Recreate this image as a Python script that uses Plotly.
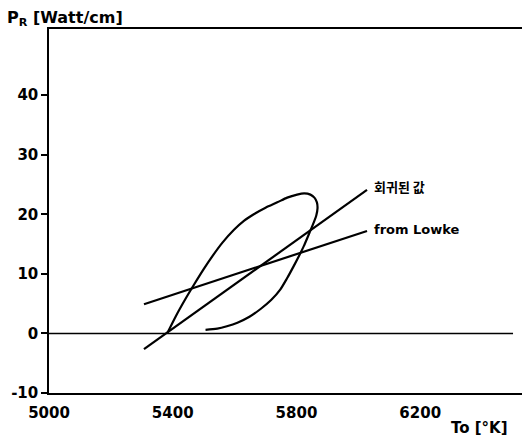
import plotly.graph_objects as go

# Data
loop_x = [5383, 5410, 5440, 5470, 5500, 5530, 5560, 5598, 5630, 5662, 5700, 5738,
          5770, 5802, 5825, 5845, 5858, 5866, 5868, 5864, 5851, 5838, 5824, 5808,
          5791, 5770, 5748, 5718, 5684, 5648, 5609, 5575, 5544, 5506]
loop_y = [0.1, 2.9, 5.7, 8.3, 10.8, 13.1, 15.2, 17.4, 18.9, 20.0, 21.1, 22.0,
          22.8, 23.3, 23.5, 23.3, 22.8, 22.0, 21.0, 19.8, 18.0, 16.4, 14.7, 13.0,
          11.3, 9.3, 7.4, 5.6, 4.1, 2.8, 1.8, 1.2, 0.8, 0.6]

regress_x = [5307, 6028]
regress_y = [-2.65, 24.1]

lowke_x = [5307, 6028]
lowke_y = [4.9, 17.2]

zero_x = [5000, 6500]
zero_y = [0, 0]

x_ticks = [5000, 5400, 5800, 6200]
y_ticks = [-10, 0, 10, 20, 30, 40]

label_regress = "회귀된 값"
label_lowke = "from Lowke"

FONT = "DejaVu Sans"
line_style = dict(color="black", width=2.2)

fig = go.Figure()
fig.add_trace(go.Scatter(x=zero_x, y=zero_y, mode="lines",
                         line=dict(color="black", width=1.5), hoverinfo="skip"))
fig.add_trace(go.Scatter(x=loop_x, y=loop_y, mode="lines",
                         line=dict(shape="spline", smoothing=0.8, **line_style)))
fig.add_trace(go.Scatter(x=regress_x, y=regress_y, mode="lines", line=line_style))
fig.add_trace(go.Scatter(x=lowke_x, y=lowke_y, mode="lines", line=line_style))

tick_font = dict(family=FONT, size=15, color="black", weight="bold")

fig.update_layout(
    width=523, height=440,
    margin=dict(l=49, r=1, t=29, b=47),
    paper_bgcolor="white", plot_bgcolor="white",
    showlegend=False,
    font=dict(family=FONT, size=14, color="black"),
    xaxis=dict(range=[5000, 6529], tickvals=x_ticks, ticktext=[str(v) for v in x_ticks],
               showgrid=False, zeroline=False, showline=True, linecolor="black",
               linewidth=1.5, mirror=True, ticks="", ticklabelstandoff=5,
               tickfont=tick_font),
    yaxis=dict(range=[-10, 51.1], tickvals=y_ticks, ticktext=[str(v) for v in y_ticks],
               showgrid=False, zeroline=False, showline=True, linecolor="black",
               linewidth=1.5, ticks="outside", ticklen=6, tickwidth=1.5,
               tickcolor="black", ticklabelstandoff=0,
               tickfont=tick_font),
    annotations=[
        dict(x=-0.093, y=1.03, xref="paper", yref="paper", xanchor="left",
             yanchor="middle", showarrow=False,
             text="<b>P<sub>R</sub> [Watt/cm]</b>",
             font=dict(family=FONT, size=16, color="black")),
        dict(x=0.975, y=-0.096, xref="paper", yref="paper", xanchor="right",
             yanchor="middle", showarrow=False, text="<b>To [°K]</b>",
             font=dict(family=FONT, size=15, color="black")),
        dict(x=6045, y=24.7, xref="x", yref="y", xanchor="left", yanchor="middle",
             showarrow=False, text="<b>" + label_regress + "</b>",
             font=dict(family="Noto Sans CJK KR", size=13, color="black")),
        dict(x=6045, y=17.4, xref="x", yref="y", xanchor="left", yanchor="middle",
             showarrow=False, text="<b>" + label_lowke + "</b>",
             font=dict(family=FONT, size=13, color="black")),
    ],
)

fig.write_html("out.html", config={"displayModeBar": False},
               post_script="document.body.style.margin='0';")
